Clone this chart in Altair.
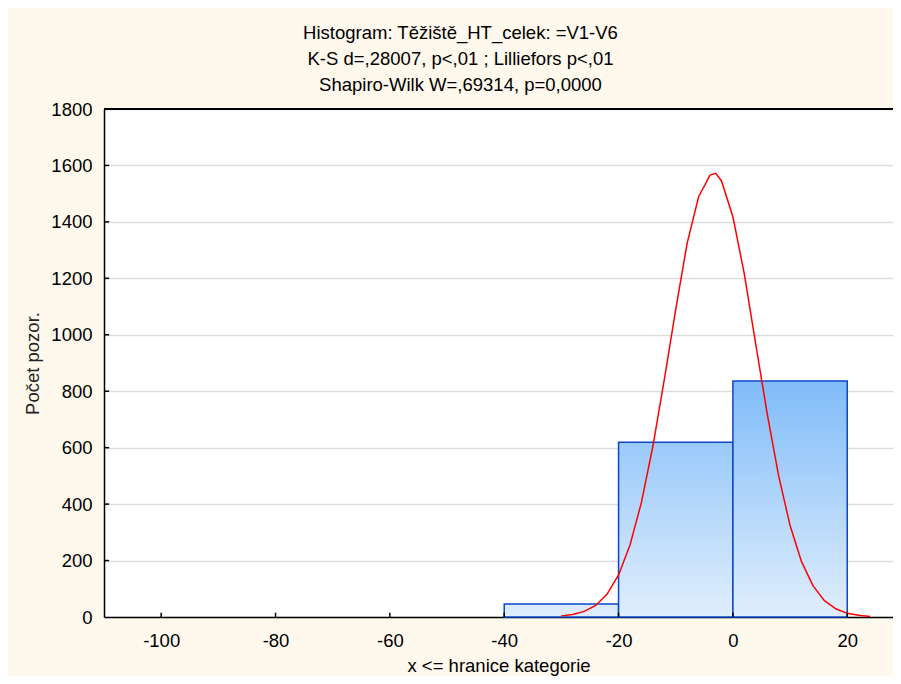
import altair as alt
import pandas as pd

FONT = "Liberation Sans"

# Histogram bins (x <= upper bound) and counts
bin_start = [-40, -20, 0]
bin_end = [-20, 0, 20]
counts = [46, 619, 836]

# Expected normal curve
curve_x = [-30, -28, -26, -24, -22, -20, -18, -16, -14, -12, -10, -8, -6, -4, -3,
           -2, 0, 2, 4, 6, 8, 10, 12, 14, 16, 18, 20, 22, 24]
curve_y = [4, 9, 20, 41, 81, 149, 255, 406, 605, 841, 1090, 1325, 1489, 1566, 1572,
           1545, 1418, 1215, 966, 720, 500, 324, 196, 111, 58, 29, 13, 6, 2]

x_ticks = [-100, -80, -60, -40, -20, 0, 20]
y_ticks = [0, 200, 400, 600, 800, 1000, 1200, 1400, 1600, 1800]
inner_y_ticks = [200, 400, 600, 800, 1000, 1200, 1400, 1600]

title_lines = [
    "Histogram: Těžiště_HT_celek: =V1-V6",
    "K-S d=,28007, p<,01 ; Lilliefors p<,01",
    "Shapiro-Wilk W=,69314, p=0,0000",
]
x_title = "x <= hranice kategorie"
y_title = "Počet pozor."

# bar gradient colours (top, bottom) per bar
bar_top_colors = ["#D9EAFC", "#9ACAFA", "#80BCF9"]
bar_bottom_color = "#E0EEFC"

bars_df = pd.DataFrame({
    "idx": list(range(len(counts))),
    "start": bin_start,
    "end": bin_end,
    "count": counts,
    "base": [0] * len(counts),
})
curve_df = pd.DataFrame({"x": curve_x, "y": curve_y})
xt_df = pd.DataFrame({"v": x_ticks})
yt_df = pd.DataFrame({"v": inner_y_ticks})

x_scale = alt.Scale(domain=[-110, 28], nice=False, zero=False)
y_scale = alt.Scale(domain=[0, 1800], nice=False, zero=False)

x_axis = alt.Axis(values=x_ticks, ticks=False, grid=False, domainColor="black",
                  domainWidth=1.5, labelFont=FONT, labelFontSize=18.5, labelColor="black",
                  labelPadding=14, labelFlush=False, labelExpr="datum.value + ''",
                  title=x_title, titleFont=FONT,
                  titleFontSize=18.5, titleFontWeight="normal", titleColor="black",
                  titlePadding=7)
y_axis = alt.Axis(values=y_ticks, ticks=False, grid=True, gridColor="#DDDDDD",
                  gridWidth=1.5, domainColor="black", domainWidth=1.5, labelFont=FONT,
                  labelFontSize=18.5, labelColor="black", labelPadding=12,
                  labelFlush=False, labelExpr="datum.value + ''",
                  title=y_title, titleFont=FONT, titleFontSize=18.5,
                  titleFontWeight="normal", titleColor="#222222", titlePadding=8)

layers = []
for i in range(len(counts)):
    grad = alt.Gradient(
        gradient="linear", x1=0, x2=0, y1=0, y2=1,
        stops=[alt.GradientStop(color=bar_top_colors[i], offset=0),
               alt.GradientStop(color=bar_bottom_color, offset=1)],
    )
    layers.append(
        alt.Chart(bars_df)
        .transform_filter(alt.datum.idx == i)
        .mark_rect(fill=grad, stroke="#0A47C9", strokeWidth=1.5)
        .encode(
            x=alt.X("start:Q", scale=x_scale, axis=x_axis),
            x2="end:Q",
            y=alt.Y("base:Q", scale=y_scale, axis=y_axis),
            y2="count:Q",
        )
    )

curve = alt.Chart(curve_df).mark_line(color="#FF0000", strokeWidth=1.5).encode(
    x=alt.X("x:Q", scale=x_scale, axis=x_axis),
    y=alt.Y("y:Q", scale=y_scale, axis=y_axis),
)

x_tick_marks = alt.Chart(xt_df).mark_rule(color="black", strokeWidth=1.5).encode(
    x=alt.X("v:Q", scale=x_scale, axis=x_axis),
    y=alt.datum(0),
    y2=alt.datum(15),
)
y_tick_marks = alt.Chart(yt_df).mark_rule(color="black", strokeWidth=1.5).encode(
    y=alt.Y("v:Q", scale=y_scale, axis=y_axis),
    x=alt.datum(-110),
    x2=alt.datum(-109.1),
)
top_border = alt.Chart(xt_df).mark_rule(color="black", strokeWidth=2).encode(
    y=alt.datum(1800),
)

chart = (
    alt.layer(*layers, curve, x_tick_marks, y_tick_marks, top_border)
    .properties(
        width=789,
        height=508,
        background="#FEF8ED",
        padding={"left": 96, "top": 101, "right": 0, "bottom": 59},
        autosize=alt.AutoSizeParams(type="none"),
        title=alt.Title(
            text=title_lines, font=FONT, fontSize=18.5, fontWeight="normal",
            color="black", lineHeight=26, anchor="middle", frame="group",
            dx=-38, offset=6,
        ),
    )
    .configure_view(stroke=None, fill="white")
)

chart.save("out.html", embed_options={"renderer": "svg", "actions": False})
